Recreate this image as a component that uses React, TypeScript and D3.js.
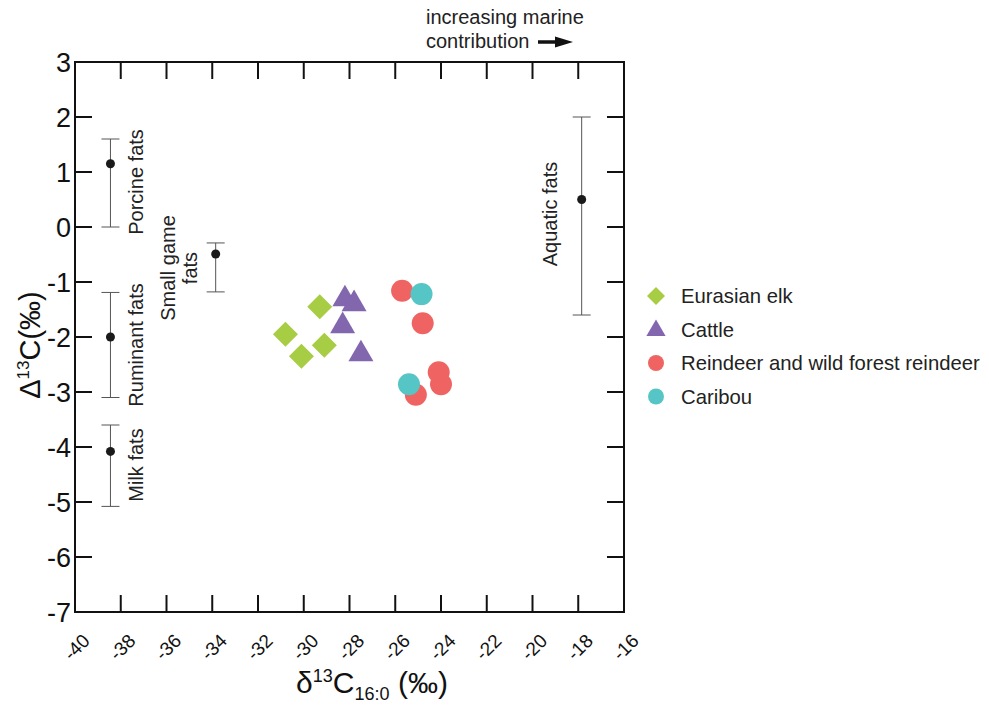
import * as d3 from "d3";

const elkX = [-29.3, -30.8, -30.1, -29.1];
const elkY = [-1.45, -1.95, -2.35, -2.15];
const cattleX = [-28.2, -27.8, -28.3, -27.5];
const cattleY = [-1.31, -1.4, -1.8, -2.31];
const reindeerX = [-25.7, -24.8, -24.1, -24.0, -25.1];
const reindeerY = [-1.16, -1.75, -2.64, -2.86, -3.05];
const caribouX = [-24.85, -25.4];
const caribouY = [-1.22, -2.86];

// reference fats: mean and range
const refNames = ["Porcine fats", "Ruminant fats", "Milk fats", "Small game|fats", "Aquatic fats"];
const refX = [-38.45, -38.45, -38.45, -33.85, -17.85];
const refY = [1.15, -2.0, -4.08, -0.49, 0.5];
const refLo = [0.0, -3.1, -5.08, -1.18, -1.6];
const refHi = [1.6, -1.19, -3.6, -0.29, 2.0];

const xTicks = d3.range(-40, -15, 2);
const yTicks = d3.range(-7, 4, 1);

const legendNames = ["Eurasian elk", "Cattle", "Reindeer and wild forest reindeer", "Caribou"];
const colors = ["#a7cd45", "#8266ae", "#ef6462", "#55c5c5"];

const font = "Liberation Sans, Arial, sans-serif";

const App = () => {
  const x = d3.scaleLinear().domain([-40, -16]).range([75, 624]);
  const y = d3.scaleLinear().domain([-7, 3]).range([612, 62]);
  const tri = d3.symbol().type(d3.symbolTriangle).size(270);
  const dia = (cx: number, cy: number, r: number) =>
    `M${cx},${cy - r}L${cx + r},${cy}L${cx},${cy + r}L${cx - r},${cy}Z`;
  const tl = 17;

  return (
    <svg
      width={989}
      height={708}
      style={{ position: "absolute", left: 0, top: 0, background: "#fff" }}
      fontFamily={font}
    >
      {/* ticks */}
      {xTicks.map((t) => (
        <g key={"xt" + t}>
          <line x1={x(t)} x2={x(t)} y1={612} y2={612 - tl} stroke="#111" strokeWidth={2} />
          <line x1={x(t)} x2={x(t)} y1={62} y2={62 + tl} stroke="#111" strokeWidth={2} />
          <text
            transform={`translate(${x(t) + 16},${642}) rotate(-45)`}
            textAnchor="end"
            fontSize={19}
            fill="#111"
          >
            {t}
          </text>
        </g>
      ))}
      {yTicks.map((t) => (
        <g key={"yt" + t}>
          <line x1={75} x2={75 + tl} y1={y(t)} y2={y(t)} stroke="#111" strokeWidth={2} />
          <line x1={624} x2={624 - tl} y1={y(t)} y2={y(t)} stroke="#111" strokeWidth={2} />
          <text x={71} y={y(t) + 9.5} textAnchor="end" fontSize={27} fill="#111">
            {t}
          </text>
        </g>
      ))}
      <rect x={75} y={62} width={549} height={550} fill="none" stroke="#111" strokeWidth={2} />

      {/* reference ranges */}
      {refNames.map((n, i) => {
        const cx = x(refX[i]);
        const lines = n.split("|");
        const lx = i === 4 ? cx - 25 : i === 3 ? cx - 37 : cx + 33;
        const ly = i === 0 ? 182 : i === 1 ? 345 : i === 2 ? 465 : i === 3 ? 268 : 214;
        return (
          <g key={n}>
            <line x1={cx} x2={cx} y1={y(refLo[i])} y2={y(refHi[i])} stroke="#555" strokeWidth={1} />
            <line x1={cx - 9} x2={cx + 9} y1={y(refLo[i])} y2={y(refLo[i])} stroke="#555" strokeWidth={1} />
            <line x1={cx - 9} x2={cx + 9} y1={y(refHi[i])} y2={y(refHi[i])} stroke="#555" strokeWidth={1} />
            <circle cx={cx} cy={y(refY[i])} r={4.5} fill="#1a1a1a" />
            <text
              transform={`translate(${lx},${ly}) rotate(-90)`}
              textAnchor="middle"
              fontSize={20}
              fill="#222"
            >
              {lines.map((l, k) => (
                <tspan key={k} x={0} dy={k === 0 ? (lines.length > 1 ? -4 : 0) : 22}>
                  {l}
                </tspan>
              ))}
            </text>
          </g>
        );
      })}

      {/* data */}
      {elkX.map((v, i) => (
        <path key={"e" + i} d={dia(x(v), y(elkY[i]), 12.5)} fill={colors[0]} />
      ))}
      {cattleX.map((v, i) => (
        <path
          key={"c" + i}
          d={tri()!}
          transform={`translate(${x(v)},${y(cattleY[i])})`}
          fill={colors[1]}
        />
      ))}
      {reindeerX.map((v, i) => (
        <circle key={"r" + i} cx={x(v)} cy={y(reindeerY[i])} r={11} fill={colors[2]} />
      ))}
      {caribouX.map((v, i) => (
        <circle key={"b" + i} cx={x(v)} cy={y(caribouY[i])} r={11} fill={colors[3]} />
      ))}

      {/* legend */}
      {legendNames.map((n, i) => {
        const ly = 296 + i * 33.5;
        return (
          <g key={n}>
            {i === 0 && <path d={dia(656, ly, 9)} fill={colors[0]} />}
            {i === 1 && (
              <path
                d={d3.symbol().type(d3.symbolTriangle).size(160)()!}
                transform={`translate(656,${ly + 1})`}
                fill={colors[1]}
              />
            )}
            {i >= 2 && <circle cx={656} cy={ly} r={8} fill={colors[i]} />}
            <text x={681} y={ly + 7} fontSize={20.3} fill="#222">
              {n}
            </text>
          </g>
        );
      })}

      {/* annotation */}
      <text x={426} y={24} fontSize={20} fill="#222">
        increasing marine
      </text>
      <text x={426} y={48} fontSize={20} fill="#222">
        contribution
      </text>
      <line x1={538} x2={560} y1={42} y2={42} stroke="#111" strokeWidth={3.5} />
      <path d="M555,36.5L573,42L555,47.5Z" fill="#111" />

      {/* axis titles */}
      <text transform="translate(40,345) rotate(-90)" textAnchor="middle" fontSize={29} fill="#111">
        Δ<tspan dy={-11} fontSize={17}>13</tspan>
        <tspan dy={11}>C(‰)</tspan>
      </text>
      <text x={372} y={693} textAnchor="middle" fontSize={30} fill="#111">
        δ<tspan dy={-11} fontSize={18}>13</tspan>
        <tspan dy={11}>C</tspan>
        <tspan dy={7} fontSize={18}>16:0</tspan>
        <tspan dy={-7}> (‰)</tspan>
      </text>
    </svg>
  );
};

export default App;
